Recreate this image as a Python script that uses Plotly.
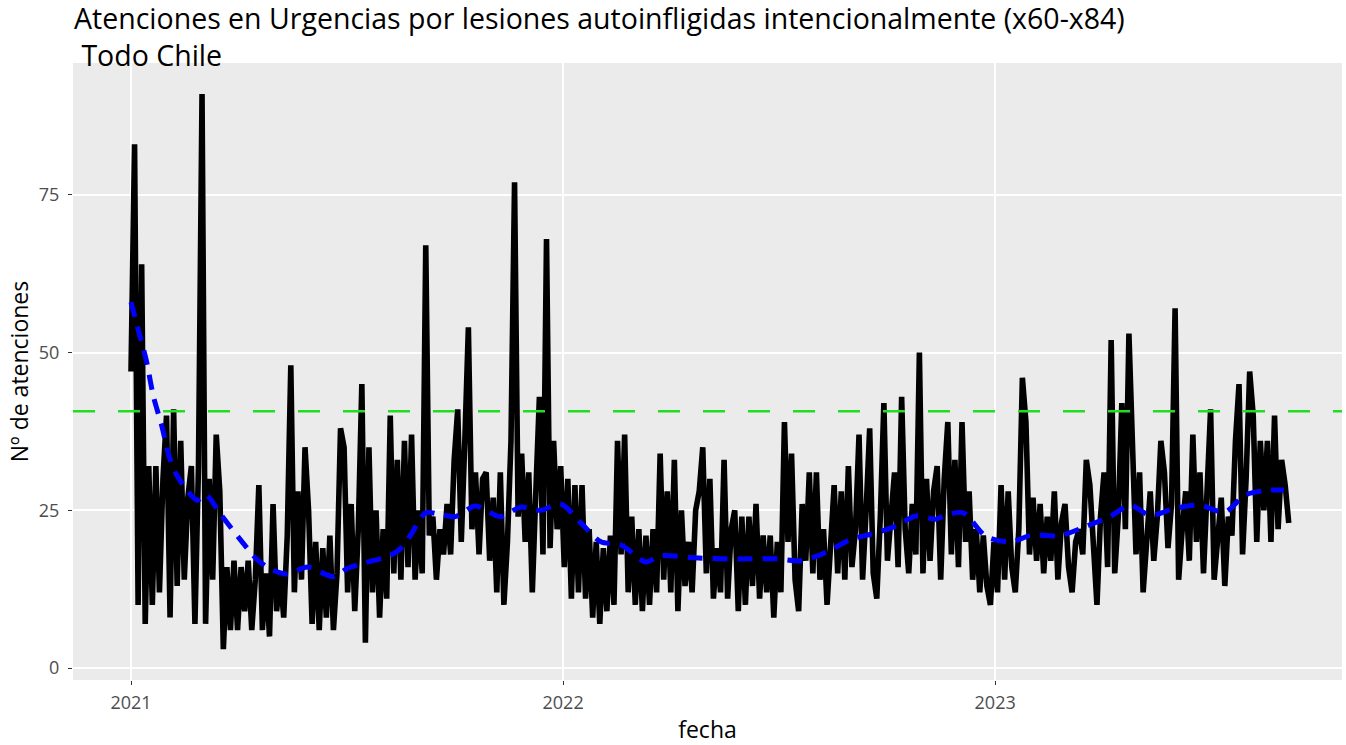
import pandas as pd
import plotly.graph_objects as go

counts_2021 = [47, 83, 10, 64, 7, 32, 10, 32, 12, 30,
               40, 8, 41, 13, 36, 14, 27, 32, 7, 32,
               91, 7, 30, 14, 37, 28, 3, 16, 6, 17,
               6, 16, 9, 17, 6, 14, 29, 6, 15, 5,
               26, 9, 15, 8, 21, 48, 12, 28, 14, 35,
               25, 7, 20, 6, 19, 8, 21, 6, 15, 38,
               35, 12, 26, 9, 22, 45, 4, 35, 12, 25,
               8, 22, 11, 40, 15, 33, 14, 36, 16, 37,
               14, 25, 15, 67, 21, 24, 14, 22, 18, 26,
               18, 33, 41, 20, 36, 54, 22, 31, 18, 30,
               31, 17, 27, 12, 31, 10, 20, 36, 77, 24,
               34, 20, 31, 12, 28, 43, 18, 68, 19, 36,
               22, 32]
counts_2022 = [16, 30, 11, 29, 12, 29, 11, 22,
               8, 20, 7, 19, 9, 21, 10, 36, 18, 37,
               12, 24, 10, 22, 9, 21, 10, 22, 12, 34,
               14, 28, 12, 33, 9, 25, 13, 20, 12, 25,
               28, 35, 15, 30, 11, 19, 12, 33, 11, 22,
               25, 9, 24, 10, 24, 13, 26, 11, 21, 12,
               21, 8, 20, 12, 39, 20, 34, 14, 9, 26,
               17, 31, 15, 31, 14, 22, 10, 20, 29, 15,
               28, 14, 32, 16, 22, 37, 14, 25, 38, 15,
               11, 24, 42, 17, 23, 31, 16, 43, 22, 15,
               26, 18, 50, 15, 30, 17, 28, 32, 14, 30,
               39, 18, 33, 16, 39, 20, 28, 14, 22, 12,
               21, 13, 10, 20]
counts_2023 = [12, 29, 14, 28, 16, 12,
               22, 46, 39, 18, 27, 17, 26, 15, 24, 17,
               28, 14, 23, 26, 16, 12, 20, 22, 18, 33,
               29, 20, 10, 24, 31, 16, 52, 15, 24, 42,
               22, 53, 33, 18, 31, 12, 20, 28, 17, 24,
               36, 31, 19, 26, 57, 14, 22, 28, 17, 37,
               20, 31, 15, 26, 41, 14, 22, 27, 13, 24,
               21, 36, 45, 18, 30, 47, 40, 20, 36, 25,
               36, 20, 40, 22, 33, 29, 23]
start_date = "2021-01-01"
sample_step = "3D"

# ---- smoothed trend (blue dashed) ----
trend_dates = ["2021-01-01", "2021-01-08", "2021-01-14", "2021-01-20", "2021-01-27",
               "2021-02-02", "2021-02-08", "2021-02-18", "2021-02-26", "2021-03-05",
               "2021-03-18", "2021-04-04", "2021-04-18", "2021-05-01", "2021-05-13",
               "2021-05-30", "2021-06-10", "2021-06-21", "2021-07-03", "2021-07-14",
               "2021-08-08", "2021-08-17", "2021-08-25", "2021-09-07", "2021-09-20",
               "2021-10-02", "2021-10-19", "2021-11-09", "2021-11-26", "2021-12-13",
               "2021-12-30", "2022-01-16", "2022-02-02", "2022-02-19", "2022-03-12",
               "2022-03-24", "2022-04-19", "2022-05-14", "2022-06-08", "2022-06-30",
               "2022-07-21", "2022-08-11", "2022-09-01", "2022-09-18", "2022-10-09",
               "2022-10-26", "2022-11-12", "2022-11-20", "2022-12-05", "2022-12-24",
               "2023-01-14", "2023-01-31", "2023-02-25", "2023-03-18", "2023-04-08",
               "2023-04-25", "2023-05-12", "2023-06-02", "2023-06-23", "2023-07-14",
               "2023-07-31", "2023-08-21", "2023-09-02"]
trend_values = [58, 53, 48.7, 43, 38.4,
                33.7, 30.8, 28, 26.6, 27.5,
                24.3, 20.2, 17.1, 15.5, 14.9,
                16.0, 15.2, 14.5, 15.8, 16.5,
                17.8, 19, 21, 24.6, 24.3,
                24, 25.7, 24, 25.5, 25,
                26, 23, 20, 19.5, 16.8,
                17.8, 17.5, 17.3, 17.3, 17.3,
                17, 18.3, 20.4, 21.2, 22.5,
                24.1, 23.6, 24.2, 24.6, 20.9,
                20, 21, 21, 22.4, 24,
                25.8, 24.2, 25.3, 25.8, 24.7,
                27.4, 28.2, 28.2]

threshold = 40.7

year_tick_dates = ["2021-01-01", "2022-01-01", "2023-01-01"]
year_tick_labels = ["2021", "2022", "2023"]
y_tick_values = [0, 25, 50, 75]

title_text = ("Atenciones en Urgencias por lesiones autoinfligidas intencionalmente (x60-x84)"
              "<br>\u00a0Todo Chile")

counts = counts_2021 + counts_2022 + counts_2023
dates = pd.date_range(start_date, periods=len(counts), freq=sample_step)

fig = go.Figure()
fig.add_trace(go.Scatter(
    x=dates, y=counts, mode="lines",
    line=dict(color="black", width=5.6),
    showlegend=False, hoverinfo="x+y"))
fig.add_trace(go.Scatter(
    x=trend_dates, y=trend_values, mode="lines",
    line=dict(color="#0000FF", width=5, dash="15px,10px", shape="spline", smoothing=0.8),
    showlegend=False, hoverinfo="x+y"))
fig.add_hline(y=threshold, line=dict(color="#22DD22", width=2.5, dash="22px,23px"))

FONT = "Open Sans, verdana, arial, sans-serif"
fig.add_annotation(
    text=title_text, xref="paper", yref="paper",
    x=0, y=(680 - 75) / 617, xanchor="left", yanchor="bottom",
    align="left", showarrow=False, borderpad=0,
    font=dict(size=28.5, color="black", family=FONT))

fig.update_layout(
    width=1346, height=745, autosize=False,
    margin=dict(l=73, r=4, t=63, b=65),
    paper_bgcolor="white", plot_bgcolor="#EBEBEB",
    font=dict(family=FONT, color="black"),
    xaxis=dict(
        type="date", range=["2020-11-13", "2023-10-21"],
        tickvals=year_tick_dates, ticktext=year_tick_labels,
        ticks="outside", ticklen=4, tickwidth=1.2, tickcolor="#333333",
        tickfont=dict(size=18, color="#4D4D4D"), ticklabelstandoff=2,
        showgrid=True, gridcolor="white", gridwidth=1.6, zeroline=False,
        showline=False, automargin=False,
        title=dict(text="fecha", font=dict(size=23, color="black"), standoff=16),
    ),
    yaxis=dict(
        range=[-1.9, 95.9], tickvals=y_tick_values,
        ticks="outside", ticklen=4, tickwidth=1.2, tickcolor="#333333",
        tickfont=dict(size=18, color="#4D4D4D"), ticklabelstandoff=5,
        showgrid=True, gridcolor="white", gridwidth=1.6, zeroline=False,
        showline=False, automargin=False,
        title=dict(text="Nº de atenciones", font=dict(size=23, color="black"), standoff=3),
    ),
)

fig.write_html("out.html", config={"displayModeBar": False},
               post_script="document.body.style.margin='0';")
